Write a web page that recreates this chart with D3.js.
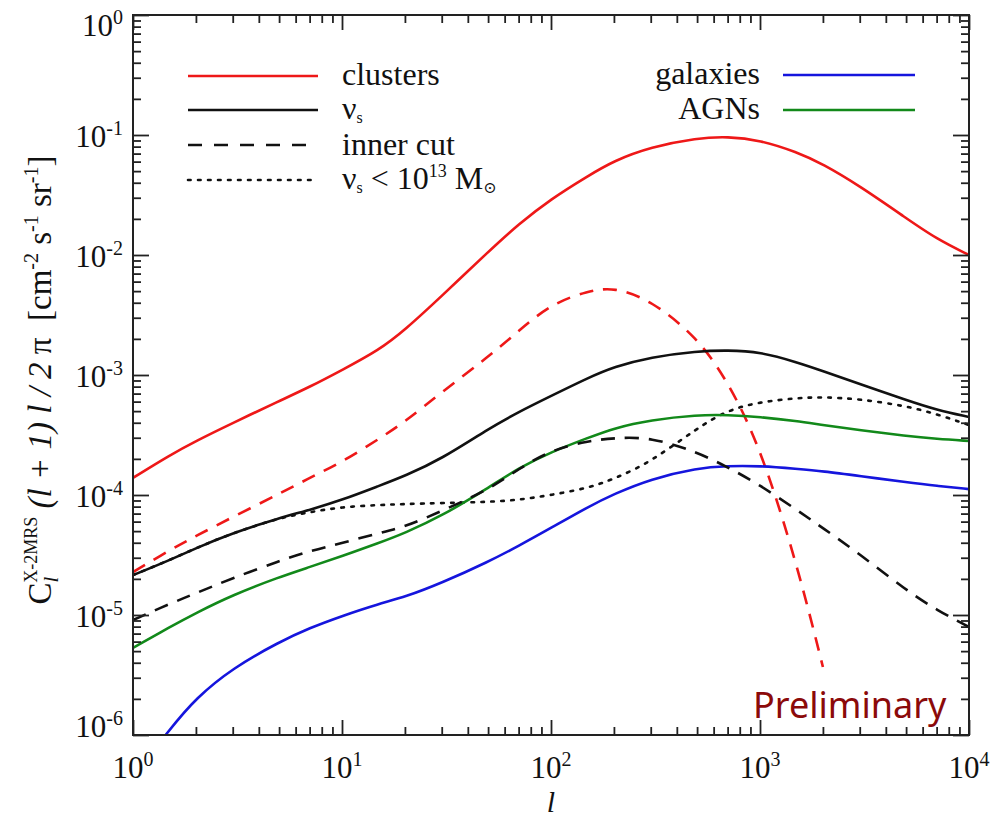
<!DOCTYPE html>
<html>
<head>
<meta charset="utf-8">
<script src="https://cdn.jsdelivr.net/npm/d3@7"></script>
<style>
  html, body { margin: 0; padding: 0; background: #fff; }
  svg { display: block; }
  text { font-family: "Liberation Serif", "DejaVu Serif", serif; fill: #111; }
</style>
</head>
<body>
<svg id="chart" width="993" height="818"></svg>
<script>
// Multipole grid
const ell = [1, 1.5, 2, 3, 5, 7, 10, 15, 20, 30, 50, 70, 100, 150, 200, 300, 500, 700, 1000, 1500, 2000, 3000, 5000, 7000, 10000];

// Cross-power spectra C_l (l+1) l / 2pi  [cm^-2 s^-1 sr^-1]
const clusters = [1.39e-4, 2.15e-4, 2.82e-4, 3.98e-4, 6.07e-4, 7.94e-4, 1.10e-3, 1.61e-3, 2.37e-3, 4.55e-3, 1.06e-2, 1.81e-2, 2.93e-2, 4.55e-2, 6.10e-2, 7.94e-2, 9.44e-2, 9.72e-2, 9.08e-2, 7.21e-2, 5.73e-2, 3.76e-2, 2.03e-2, 1.36e-2, 1.00e-2];
const clustersCut = [2.28e-5, 3.48e-5, 4.55e-5, 6.56e-5, 1.02e-4, 1.39e-4, 1.88e-4, 2.93e-4, 4.06e-4, 7.21e-4, 1.41e-3, 2.33e-3, 3.91e-3, 5.01e-3, 5.41e-3, 4.22e-3, 2.07e-3, 8.91e-4, 2.56e-4, 2.71e-5, 3.69e-6, null, null, null, null];
const nuS = [2.15e-5, 2.87e-5, 3.61e-5, 4.82e-5, 6.43e-5, 7.50e-5, 9.08e-5, 1.19e-4, 1.44e-4, 2.00e-4, 3.55e-4, 4.92e-4, 6.68e-4, 9.44e-4, 1.17e-3, 1.41e-3, 1.58e-3, 1.61e-3, 1.56e-3, 1.28e-3, 1.08e-3, 8.41e-4, 6.19e-4, 5.11e-4, 4.47e-4];
const nuSCut = [9.08e-6, 1.24e-5, 1.52e-5, 2.03e-5, 2.82e-5, 3.41e-5, 3.98e-5, 4.82e-5, 5.41e-5, 7.36e-5, 1.10e-4, 1.65e-4, 2.37e-4, 2.82e-4, 2.99e-4, 3.04e-4, 2.28e-4, 1.71e-4, 1.21e-4, 7.50e-5, 5.31e-5, 3.22e-5, 1.61e-5, 1.10e-5, 7.94e-6];
const nuSLow = [2.15e-5, 2.87e-5, 3.61e-5, 4.82e-5, 6.43e-5, 7.21e-5, 7.94e-5, 8.26e-5, 8.41e-5, 8.57e-5, 8.75e-5, 9.08e-5, 1.00e-4, 1.14e-4, 1.36e-4, 1.88e-4, 3.61e-4, 5.11e-4, 5.96e-4, 6.43e-4, 6.56e-4, 6.31e-4, 5.52e-4, 4.73e-4, 3.83e-4];
const agn = [5.31e-6, 7.94e-6, 1.04e-5, 1.47e-5, 2.07e-5, 2.51e-5, 3.10e-5, 3.98e-5, 4.82e-5, 6.68e-5, 1.14e-4, 1.68e-4, 2.28e-4, 2.99e-4, 3.61e-4, 4.22e-4, 4.65e-4, 4.65e-4, 4.47e-4, 4.14e-4, 3.83e-4, 3.48e-4, 3.10e-4, 2.93e-4, 2.82e-4];
const galaxies = [4.39e-7, 1.12e-6, 2.03e-6, 3.61e-6, 5.96e-6, 7.80e-6, 9.82e-6, 1.24e-5, 1.41e-5, 1.85e-5, 2.77e-5, 3.76e-5, 5.31e-5, 7.94e-5, 1.02e-4, 1.36e-4, 1.68e-4, 1.75e-4, 1.75e-4, 1.65e-4, 1.58e-4, 1.44e-4, 1.28e-4, 1.19e-4, 1.12e-4];

// Axis decades (exponents) used for tick labels
const xDecades = [0, 1, 2, 3, 4];
const yDecades = [0, -1, -2, -3, -4, -5, -6];

const COLORS = { red: "#ee1818", black: "#111111", green: "#12891a", blue: "#1515dd", mark: "#8b0a0a" };

const plotL = 133, plotR = 969, plotT = 15, plotB = 735;
const svg = d3.select("#chart");

const x = d3.scaleLog().domain([1, 1e4]).range([plotL, plotR]);
const y = d3.scaleLog().domain([1e-6, 1]).range([plotB, plotT]);

// tick positions
const majorX = xDecades.map(e => Math.pow(10, e));
const minorX = [];
for (let e = 0; e < 4; e++) for (let k = 2; k <= 9; k++) minorX.push(k * Math.pow(10, e));
const majorY = yDecades.map(e => Math.pow(10, e));
const minorY = [];
for (let e = -6; e < 0; e++) for (let k = 2; k <= 9; k++) minorY.push(k * Math.pow(10, e));

// clip region
svg.append("defs").append("clipPath").attr("id", "plotclip")
  .append("rect").attr("x", plotL).attr("y", plotT).attr("width", plotR - plotL).attr("height", plotB - plotT);

// curves
const DOTS = "2.6,7.4", DASH = "14,10";
const series = [
  { v: clusters, color: COLORS.red, dash: null },
  { v: clustersCut, color: COLORS.red, dash: DASH },
  { v: nuSLow, color: COLORS.black, dash: DOTS },
  { v: agn, color: COLORS.green, dash: null },
  { v: galaxies, color: COLORS.blue, dash: null },
  { v: nuSCut, color: COLORS.black, dash: DASH },
  { v: nuS, color: COLORS.black, dash: null }
];

const line = d3.line()
  .defined(d => d.v != null)
  .x(d => x(d.l))
  .y(d => y(d.v))
  .curve(d3.curveBasis);

const curves = svg.append("g").attr("clip-path", "url(#plotclip)");
series.forEach(s => {
  const pts = ell.map((l, i) => ({ l, v: s.v[i] }));
  curves.append("path")
    .attr("d", line(pts))
    .attr("fill", "none")
    .attr("stroke", s.color)
    .attr("stroke-width", 2.6)
    .attr("stroke-dasharray", s.dash)
    .attr("stroke-linecap", s.dash === DOTS ? "round" : "butt");
});

// axes with inward ticks on all four sides
function addAxis(axisFn, scale, tx, ty, ticks, size) {
  const g = svg.append("g").attr("transform", `translate(${tx},${ty})`)
    .call(axisFn(scale).tickValues(ticks).tickSize(size).tickFormat(""));
  g.select(".domain").remove();
  g.selectAll(".tick line").attr("stroke", "#222").attr("stroke-width", 1.8);
}
addAxis(d3.axisBottom, x, 0, plotB, majorX, -15);
addAxis(d3.axisBottom, x, 0, plotB, minorX, -8);
addAxis(d3.axisTop, x, 0, plotT, majorX, -15);
addAxis(d3.axisTop, x, 0, plotT, minorX, -8);
addAxis(d3.axisLeft, y, plotL, 0, majorY, -16);
addAxis(d3.axisLeft, y, plotL, 0, minorY, -8);
addAxis(d3.axisRight, y, plotR, 0, majorY, -16);
addAxis(d3.axisRight, y, plotR, 0, minorY, -8);

svg.append("rect")
  .attr("x", plotL).attr("y", plotT).attr("width", plotR - plotL).attr("height", plotB - plotT)
  .attr("fill", "none").attr("stroke", "#222").attr("stroke-width", 2);

// tick labels: 10^n
function powerLabel(g, exp) {
  g.append("tspan").text("10");
  g.append("tspan").attr("dy", -12).attr("font-size", 20).text(exp);
}
xDecades.forEach(e => {
  const t = svg.append("text")
    .attr("x", x(Math.pow(10, e))).attr("y", 778)
    .attr("text-anchor", "middle").attr("font-size", 31);
  powerLabel(t, String(e));
});
yDecades.forEach(e => {
  const off = e === 0 ? 21 : (e === -6 ? 2 : 12);
  const t = svg.append("text")
    .attr("x", 123).attr("y", y(Math.pow(10, e)) + off)
    .attr("text-anchor", "end").attr("font-size", 31);
  powerLabel(t, e === 0 ? "0" : "-" + (-e));
});

// x-axis title
svg.append("text").attr("x", 551).attr("y", 811.5).attr("text-anchor", "middle")
  .attr("font-size", 30).attr("font-style", "italic").text("l");

// y-axis title
const yt = svg.append("text")
  .attr("transform", "translate(51,380) rotate(-90)")
  .attr("text-anchor", "middle").attr("font-size", 33)
  .style("white-space", "pre");
yt.append("tspan").text("C");
yt.append("tspan").attr("font-size", 21).attr("font-style", "italic").attr("dy", 7).text("l");
yt.append("tspan").attr("font-size", 18).attr("dx", -6).attr("dy", -21).text("X-2MRS");
yt.append("tspan").attr("font-style", "italic").attr("dy", 14).text(" (l + 1) l / 2 ");
yt.append("tspan").text("π  [cm");
yt.append("tspan").attr("font-size", 20).attr("dy", -13).text("-2");
yt.append("tspan").attr("dy", 13).text(" s");
yt.append("tspan").attr("font-size", 20).attr("dy", -13).text("-1");
yt.append("tspan").attr("dy", 13).text(" sr");
yt.append("tspan").attr("font-size", 20).attr("dy", -13).text("-1");
yt.append("tspan").attr("dy", 13).text("]");

// legends
const legendLeft = [
  { color: COLORS.red, dash: null, label: [["clusters"]], dyText: 9 },
  { color: COLORS.black, dash: null, label: [["ν"], ["s", "sub"]], dyText: 9 },
  { color: COLORS.black, dash: "14,12", label: [["inner cut"]], dyText: 10 },
  { color: COLORS.black, dash: DOTS, label: [["ν"], ["s", "sub"], [" < 10"], ["13", "sup"], [" M"], ["⊙", "sub"]], dyText: 9 }
];
const rowsY = [76, 110, 145, 180];
legendLeft.forEach((d, i) => {
  svg.append("line").attr("x1", 188).attr("x2", 318).attr("y1", rowsY[i]).attr("y2", rowsY[i])
    .attr("stroke", d.color).attr("stroke-width", 2.6)
    .attr("stroke-dasharray", d.dash)
    .attr("stroke-linecap", d.dash === DOTS ? "round" : "butt");
  const t = svg.append("text").attr("x", 342).attr("y", rowsY[i] + d.dyText).attr("font-size", 32)
    .style("white-space", "pre");
  let shift = 0;
  d.label.forEach(([s, kind]) => {
    const ts = t.append("tspan").text(s);
    let target = 0;
    if (kind === "sub") { ts.attr("font-size", 16); target = 4; }
    if (kind === "sup") { ts.attr("font-size", 18); target = -12; }
    ts.attr("dy", target - shift);
    shift = target;
  });
});

const legendRight = [
  { color: COLORS.blue, label: "galaxies", yy: 75 },
  { color: COLORS.green, label: "AGNs", yy: 110 }
];
legendRight.forEach(d => {
  svg.append("line").attr("x1", 783).attr("x2", 915).attr("y1", d.yy).attr("y2", d.yy)
    .attr("stroke", d.color).attr("stroke-width", 2.6);
  svg.append("text").attr("x", 760).attr("y", d.yy + 9).attr("text-anchor", "end")
    .attr("font-size", 32).text(d.label);
});

// watermark
svg.append("text").attr("x", 753).attr("y", 718)
  .attr("font-size", 36).style("font-family", "'Noto Sans', 'Open Sans', sans-serif")
  .style("fill", COLORS.mark).text("Preliminary");
</script>
</body>
</html>
